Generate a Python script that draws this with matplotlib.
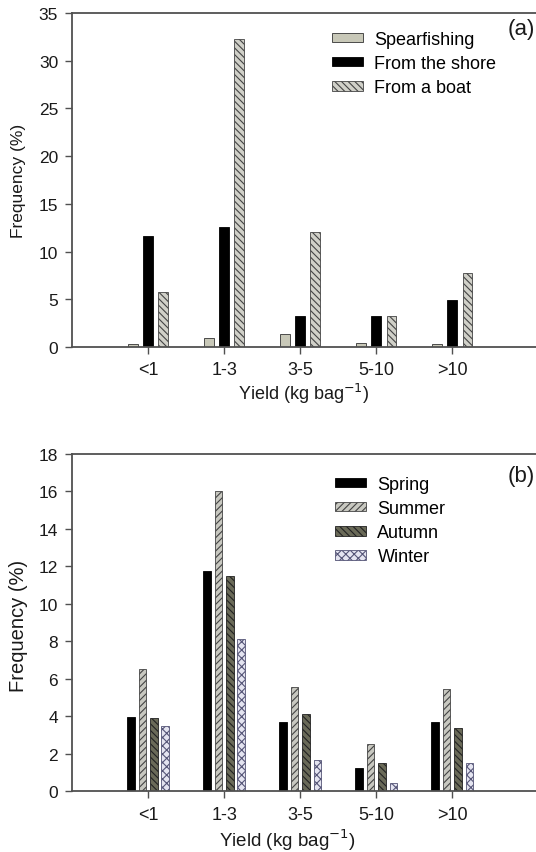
import matplotlib
matplotlib.use("Agg")
import matplotlib.pyplot as plt
import numpy as np

plt.rcParams['font.family'] = ['Liberation Sans', 'DejaVu Sans']
plt.rcParams['hatch.linewidth'] = 0.8

categories = ["<1", "1-3", "3-5", "5-10", ">10"]

# Panel (a)
spearfishing = [0.3, 0.9, 1.4, 0.4, 0.3]
from_shore = [11.6, 12.6, 3.2, 3.3, 4.95]
from_boat = [5.8, 32.3, 12.0, 3.3, 7.8]

# Panel (b)
spring = [3.97, 11.76, 3.67, 1.25, 3.67]
summer = [6.5, 16.0, 5.56, 2.51, 5.46]
autumn = [3.92, 11.48, 4.1, 1.5, 3.39]
winter = [3.46, 8.13, 1.66, 0.41, 1.5]

W, H = 536, 853
fig = plt.figure(figsize=(W / 100, H / 100), dpi=100)

def px_axes(left, top, right, bottom):
    return fig.add_axes([left / W, 1 - bottom / H, (right - left) / W, (bottom - top) / H])

def ftxt(xpx, ypx, s, **kw):
    fig.text(xpx / W, 1 - ypx / H, s, **kw)

spine_col = '#505050'
txt_col = '#1a1a1a'

def style(ax, ymax, ystep, xpad):
    ax.set_xlim(-1, 5.1)
    ax.set_ylim(0, ymax)
    ax.set_yticks(np.arange(0, ymax + 0.01, ystep))
    ax.set_xticks(range(len(categories)))
    ax.set_xticklabels(categories)
    ax.spines['right'].set_visible(False)
    for s in ['top', 'left', 'bottom']:
        ax.spines[s].set_color(spine_col)
        ax.spines[s].set_linewidth(1.3)
    ax.tick_params(direction='out', length=5, width=1, colors=spine_col,
                   labelcolor=txt_col)
    ax.tick_params(axis='x', pad=xpad, labelsize=13)
    ax.tick_params(axis='y', pad=5, labelsize=12.5)

x = np.arange(len(categories))

leg_kw = dict(loc='upper left', frameon=False, fontsize=13, handlelength=1.7,
              handleheight=0.45, handletextpad=0.65, labelspacing=0.39,
              borderpad=0, borderaxespad=0)

# Panel (a)
ax1 = px_axes(72, 14, 536, 348)
w = 0.13
d = 0.2
ax1.bar(x - d, spearfishing, w, color='#c8c8b8', edgecolor='#333333', linewidth=0.6, label='Spearfishing')
ax1.bar(x, from_shore, w, color='#000000', edgecolor='#000000', linewidth=0.6, label='From the shore')
ax1.bar(x + d, from_boat, w, color='#d0d0c8', edgecolor='#444444', linewidth=0.6, hatch='\\\\\\\\\\', label='From a boat')
style(ax1, 35, 5, 5)
ax1.legend(bbox_to_anchor=(332 / W, 1 - 32 / H), bbox_transform=fig.transFigure, **leg_kw)
ftxt(508, 29, "(a)", fontsize=16, va='center', ha='left', color=txt_col)
ftxt(19, 181, "Frequency (%)", fontsize=12.5, va='center', ha='center', rotation=90, color=txt_col)
ftxt(304, 394, "Yield (kg bag$^{-1}$)", fontsize=13, va='center', ha='center', color=txt_col)

# Panel (b)
ax2 = px_axes(72, 455, 536, 792)
w2 = 0.1
d2 = 0.15
ax2.bar(x - 1.5 * d2, spring, w2, color='#000000', edgecolor='#000000', linewidth=0.6, label='Spring')
ax2.bar(x - 0.5 * d2, summer, w2, color='#c8c8c0', edgecolor='#444444', linewidth=0.6, hatch='/////', label='Summer')
ax2.bar(x + 0.5 * d2, autumn, w2, color='#6a6a58', edgecolor='#222222', linewidth=0.6, hatch='\\\\\\\\\\', label='Autumn')
ax2.bar(x + 1.5 * d2, winter, w2, color='#e4e4f0', edgecolor='#555577', linewidth=0.6, hatch='xxxx', label='Winter')
style(ax2, 18, 2, 6)
ax2.legend(bbox_to_anchor=(335 / W, 1 - 477 / H), bbox_transform=fig.transFigure, **leg_kw)
ftxt(508, 477, "(b)", fontsize=16, va='center', ha='left', color=txt_col)
ftxt(19, 626, "Frequency (%)", fontsize=14.5, va='center', ha='center', rotation=90, color=txt_col)
ftxt(287, 840, "Yield (kg bag$^{-1}$)", fontsize=13.5, va='center', ha='center', color=txt_col)

fig.savefig("out.png", dpi=100)
